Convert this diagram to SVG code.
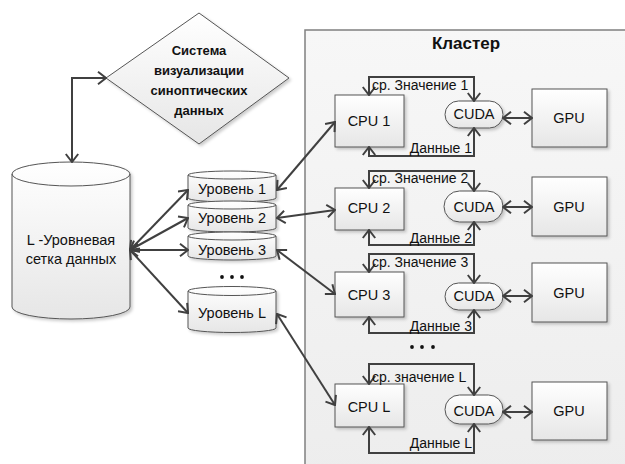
<svg xmlns="http://www.w3.org/2000/svg" width="625" height="464" viewBox="0 0 625 464">
<defs>
<linearGradient id="gNode" x1="0" y1="0" x2="0" y2="1"><stop offset="0" stop-color="#ffffff"/><stop offset="1" stop-color="#e6e6e6"/></linearGradient>
<linearGradient id="gDia" x1="0" y1="0" x2="1" y2="1"><stop offset="0" stop-color="#ffffff"/><stop offset="1" stop-color="#d8d8d8"/></linearGradient>
<linearGradient id="gBox" x1="0" y1="0" x2="0" y2="1"><stop offset="0" stop-color="#f7f7f7"/><stop offset="1" stop-color="#ededed"/></linearGradient>
<filter id="sh" x="-10%" y="-10%" width="130%" height="130%"><feDropShadow dx="2" dy="2" stdDeviation="1.5" flood-color="#000" flood-opacity="0.2"/></filter>
<marker id="ar" viewBox="0 0 10 14" refX="9" refY="7" markerWidth="10" markerHeight="14" markerUnits="userSpaceOnUse" orient="auto-start-reverse"><path d="M1,0.8 L9,7 L1,13.2" fill="none" stroke="#404040" stroke-width="2"/></marker>
<style>
.n{fill:url(#gNode);stroke:#555;stroke-width:1;filter:url(#sh)}
.c{fill:none;stroke:#404040;stroke-width:2;marker-start:url(#ar);marker-end:url(#ar)}
.t{font-family:"Liberation Sans",Arial,sans-serif;font-size:14.5px;fill:#111;text-anchor:middle}
.l{font-family:"Liberation Sans",Arial,sans-serif;font-size:14px;fill:#111}
.b{font-family:"Liberation Sans",Arial,sans-serif;font-weight:bold;fill:#111;text-anchor:middle}
.dot{fill:#111}
</style>
</defs>
<rect width="625" height="464" fill="#ffffff"/>

<g id="cluster">
<rect x="305" y="30" width="340" height="450" fill="url(#gBox)" stroke="#808080" stroke-width="1.5"/>
<text class="b" x="466" y="49" font-size="17">Кластер</text>
</g>

<g id="system">
<polygon class="n" points="199,13 289,78 199,144 106,78" fill="url(#gDia)"/>
<text class="b" x="199" y="55" font-size="13">Система</text>
<text class="b" x="199" y="75" font-size="13">визуализации</text>
<text class="b" x="199" y="95" font-size="13">синоптических</text>
<text class="b" x="199" y="115" font-size="13">данных</text>
</g>

<g id="grid">
<path class="n" d="M12,174 L12,307 A59,12 0 0 0 130,307 L130,174 A59,12 0 0 0 12,174 Z"/>
<path d="M12,174 A59,12 0 0 0 130,174" fill="none" stroke="#555" stroke-width="1"/>
<text class="t" x="71" y="245" font-size="14">L -Уровневая</text>
<text class="t" x="71" y="264" font-size="14">сетка данных</text>
</g>

<g id="level1">
<path class="n" d="M188,175 L188,198 A44,4 0 0 0 276,198 L276,175 A44,4 0 0 0 188,175 Z"/>
<path d="M188,175 A44,4 0 0 0 276,175" fill="none" stroke="#555"/>
<text class="t" x="232" y="194">Уровень 1</text>
</g>
<g id="level2">
<path class="n" d="M188,205 L188,228 A44,4 0 0 0 276,228 L276,205 A44,4 0 0 0 188,205 Z"/>
<path d="M188,205 A44,4 0 0 0 276,205" fill="none" stroke="#555"/>
<text class="t" x="232" y="223">Уровень 2</text>
</g>
<g id="level3">
<path class="n" d="M188,236 L188,256 A44,4 0 0 0 276,256 L276,236 A44,4 0 0 0 188,236 Z"/>
<path d="M188,236 A44,4 0 0 0 276,236" fill="none" stroke="#555"/>
<text class="t" x="232" y="255">Уровень 3</text>
</g>
<g id="dots1">
<circle class="dot" cx="222" cy="277" r="1.9"/><circle class="dot" cx="232" cy="277" r="1.9"/><circle class="dot" cx="242" cy="277" r="1.9"/>
</g>
<g id="levelL">
<path class="n" d="M188,291 L188,328 A44,4.5 0 0 0 276,328 L276,291 A44,4.5 0 0 0 188,291 Z"/>
<path d="M188,291 A44,4.5 0 0 0 276,291" fill="none" stroke="#555"/>
<text class="t" x="232" y="318">Уровень L</text>
</g>

<g id="cpu1"><rect class="n" x="335" y="95" width="69" height="52"/><text class="t" x="369" y="126">CPU 1</text></g>
<g id="cuda1"><rect class="n" x="445" y="101" width="58" height="27" rx="13.5"/><text class="t" x="474" y="119">CUDA</text></g>
<g id="gpu1"><rect class="n" x="532" y="89" width="75" height="58"/><text class="t" x="569" y="123">GPU</text></g>

<g id="cpu2"><rect class="n" x="335" y="188" width="69" height="42"/><text class="t" x="369" y="213">CPU 2</text></g>
<g id="cuda2"><rect class="n" x="444" y="191" width="59" height="31" rx="15.5"/><text class="t" x="474" y="212">CUDA</text></g>
<g id="gpu2"><rect class="n" x="532" y="177" width="75" height="59"/><text class="t" x="569" y="212">GPU</text></g>

<g id="cpu3"><rect class="n" x="335" y="272" width="69" height="45"/><text class="t" x="369" y="300">CPU 3</text></g>
<g id="cuda3"><rect class="n" x="445" y="283" width="58" height="27" rx="13.5"/><text class="t" x="474" y="301">CUDA</text></g>
<g id="gpu3"><rect class="n" x="532" y="263" width="75" height="59"/><text class="t" x="569" y="298">GPU</text></g>

<g id="dots2">
<circle class="dot" cx="412" cy="347" r="1.9"/><circle class="dot" cx="422" cy="347" r="1.9"/><circle class="dot" cx="433" cy="347" r="1.9"/>
</g>

<g id="cpuL"><rect class="n" x="335" y="384" width="69" height="43"/><text class="t" x="369" y="412">CPU L</text></g>
<g id="cudaL"><rect class="n" x="445" y="395" width="58" height="29" rx="14.5"/><text class="t" x="474" y="416">CUDA</text></g>
<g id="gpuL"><rect class="n" x="532" y="382" width="75" height="58"/><text class="t" x="569" y="416">GPU</text></g>

<g id="connectors">
<path class="c" d="M106,78 L72,78 L72,162"/>
<path class="c" d="M130,250 L188,190"/>
<path class="c" d="M130,250 L188,218"/>
<path class="c" d="M130,250 L188,250"/>
<path class="c" d="M130,250 L188,313"/>
<path class="c" d="M277,190 L335,122"/>
<path class="c" d="M277,218 L335,210"/>
<path class="c" d="M277,250 L335,294"/>
<path class="c" d="M277,314 L335,405"/>

<path class="c" d="M474,101 L474,77 L369,77 L369,95"/>
<path class="c" d="M369,147 L369,156 L474,156 L474,128"/>
<path class="c" d="M503,118 L532,118"/>

<path class="c" d="M474,191 L474,171 L369,171 L369,188"/>
<path class="c" d="M369,230 L369,245 L474,245 L474,222"/>
<path class="c" d="M503,207 L532,207"/>

<path class="c" d="M474,283 L474,254 L369,254 L369,272"/>
<path class="c" d="M369,317 L369,333 L474,333 L474,310"/>
<path class="c" d="M503,296 L532,296"/>

<path class="c" d="M474,395 L474,364 L369,364 L369,384"/>
<path class="c" d="M369,427 L369,453 L474,453 L474,424"/>
<path class="c" d="M503,412 L532,412"/>

<text class="l" x="372" y="90">ср. Значение 1</text>
<text class="l" x="472" y="153" text-anchor="end">Данные 1</text>
<text class="l" x="372" y="183">ср. Значение 2</text>
<text class="l" x="472" y="243" text-anchor="end">Данные 2</text>
<text class="l" x="372" y="267">ср. Значение 3</text>
<text class="l" x="472" y="331" text-anchor="end">Данные 3</text>
<text class="l" x="372" y="382">ср. значение L</text>
<text class="l" x="472" y="448" text-anchor="end">Данные L</text>
</g>
</svg>
